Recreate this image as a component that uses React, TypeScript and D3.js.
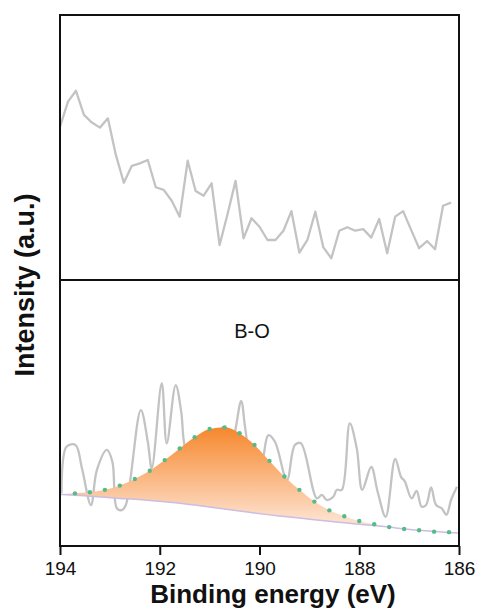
import React, { useRef, useEffect } from 'react';
import * as d3 from 'd3';

// survey spectrum (top panel), 0.16 eV steps from 194 eV
const topEnergy: number[] = d3.range(50).map(i => +(194 - 0.16 * i).toFixed(2));
const topIntensity: number[] = [
  57.8, 67.3, 71.4, 62.3, 59.4, 57.5, 61.0, 47.2, 36.7, 43.1,
  44.0, 45.3, 35.0, 34.0, 29.9, 23.9, 45.0, 33.6, 31.8, 36.5,
  13.2, 24.9, 37.4, 15.7, 23.3, 20.1, 15.1, 15.1, 18.6, 26.0,
  10.3, 15.1, 25.8, 12.3, 8.2, 18.6, 19.9, 18.6, 19.2, 16.0,
  23.0, 10.1, 23.9, 26.0, 18.9, 12.0, 14.7, 11.6, 28.0, 29.2,
];

// raw B 1s spectrum (bottom panel)
const rawEnergy: number[] = [
  193.97, 193.87, 193.69, 193.56, 193.38, 193.26, 193.06, 192.95, 192.86, 192.76,
  192.68, 192.38, 192.24, 192.16, 191.96, 191.86, 191.68, 191.57, 191.49, 191.29,
  191.09, 190.91, 190.73, 190.55, 190.37, 190.29, 190.15, 190.01, 189.82, 189.69,
  189.45, 189.29, 189.17, 188.85, 188.75, 188.65, 188.52, 188.45, 188.35, 188.19,
  188.05, 187.94, 187.76, 187.63, 187.47, 187.28, 187.16, 187.09, 186.95, 186.85,
  186.75, 186.66, 186.56, 186.46, 186.35, 186.25, 186.16, 186.04,
];
const rawIntensity: number[] = [
  19.8, 37.3, 38.0, 29.2, 15.4, 28.6, 36.1, 31.7, 14.2, 13.5,
  15.4, 51.1, 39.2, 29.2, 61.2, 38.6, 60.5, 50.5, 36.8, 29.3,
  37.2, 31.6, 44.7, 40.6, 54.5, 44.8, 29.3, 26.7, 41.7, 39.2,
  24.8, 38.0, 38.6, 17.9, 19.2, 17.3, 18.5, 21.1, 21.1, 46.1,
  36.7, 21.1, 29.7, 20.3, 11.0, 32.7, 25.9, 24.4, 17.9, 20.7,
  14.8, 15.4, 22.0, 15.4, 14.2, 11.8, 17.3, 22.3,
];

// fitted B-O component: envelope and background
const fitEnergy: number[] = [
  194.0, 193.7, 193.4, 193.1, 192.8, 192.5, 192.2, 191.9, 191.6, 191.3,
  191.0, 190.7, 190.4, 190.1, 189.8, 189.5, 189.2, 188.9, 188.6, 188.3,
  188.0, 187.7, 187.4, 187.1, 186.8, 186.5, 186.2, 186.0,
];
const fitEnvelope: number[] = [
  19.4, 19.8, 20.2, 21.1, 22.7, 25.2, 28.3, 32.3, 36.7, 40.9,
  44.0, 44.6, 42.4, 38.0, 32.0, 26.1, 21.1, 16.7, 13.4, 11.2,
  9.4, 8.2, 7.1, 6.4, 5.9, 5.4, 5.2, 4.9,
];
const fitBackground: number[] = [
  19.4, 19.1, 18.7, 18.3, 17.9, 17.6, 17.1, 16.6, 16.1, 15.4,
  14.7, 13.9, 13.2, 12.4, 11.7, 11.1, 10.5, 9.9, 9.3, 8.7,
  8.2, 7.7, 7.1, 6.4, 5.9, 5.5, 5.1, 4.9,
];

const xTicks: number[] = [194, 192, 190, 188, 186];
const peakLabel = 'B-O';

export default function App() {
  const svgRef = useRef<SVGSVGElement | null>(null);
  const width = 482;
  const height = 613;

  useEffect(() => {
    const svg = d3.select(svgRef.current);
    svg.selectAll('*').remove();

    const left = 60, right = 459, top = 15, mid = 280, bottom = 546;
    const font = '"Liberation Sans", Arial, sans-serif';

    const x = d3.scaleLinear().domain([194, 186]).range([left, right]);
    const yTop = d3.scaleLinear().domain([0, 100]).range([mid, top]);
    const yBot = d3.scaleLinear().domain([0, 100]).range([bottom, mid]);

    const defs = svg.append('defs');
    const grad = defs.append('linearGradient')
      .attr('id', 'peakFill')
      .attr('gradientUnits', 'userSpaceOnUse')
      .attr('x1', 0).attr('x2', 0)
      .attr('y1', yBot(45)).attr('y2', yBot(10));
    grad.append('stop').attr('offset', '0%').attr('stop-color', '#f6862a');
    grad.append('stop').attr('offset', '100%').attr('stop-color', '#fde0cb');

    defs.append('clipPath').attr('id', 'clipTop')
      .append('rect').attr('x', left).attr('y', top)
      .attr('width', right - left).attr('height', mid - top);
    defs.append('clipPath').attr('id', 'clipBot')
      .append('rect').attr('x', left).attr('y', mid)
      .attr('width', right - left).attr('height', bottom - mid);

    // top panel line
    const topLine = d3.line<number>()
      .x((_, i) => x(topEnergy[i]))
      .y(d => yTop(d));
    svg.append('path')
      .attr('clip-path', 'url(#clipTop)')
      .attr('d', topLine(topIntensity))
      .attr('fill', 'none')
      .attr('stroke', '#c3c3c3')
      .attr('stroke-width', 2.3)
      .attr('stroke-linejoin', 'round');

    // bottom panel raw data
    const g = svg.append('g').attr('clip-path', 'url(#clipBot)');
    const rawLine = d3.line<number>()
      .x((_, i) => x(rawEnergy[i]))
      .y(d => yBot(d))
      .curve(d3.curveCatmullRom);
    g.append('path')
      .attr('d', rawLine(rawIntensity))
      .attr('fill', 'none')
      .attr('stroke', '#c3c3c3')
      .attr('stroke-width', 2.3);

    // fitted peak area
    const area = d3.area<number>()
      .x((_, i) => x(fitEnergy[i]))
      .y0((_, i) => yBot(fitBackground[i]))
      .y1(d => yBot(d))
      .curve(d3.curveMonotoneX);
    g.append('path')
      .attr('d', area(fitEnvelope))
      .attr('fill', 'url(#peakFill)');

    // background
    const bgLine = d3.line<number>()
      .x((_, i) => x(fitEnergy[i]))
      .y(d => yBot(d))
      .curve(d3.curveMonotoneX);
    g.append('path')
      .attr('d', bgLine(fitBackground))
      .attr('fill', 'none')
      .attr('stroke', '#cbbde3')
      .attr('stroke-width', 1.5);

    // envelope dots
    g.selectAll('circle.env')
      .data(fitEnvelope.map((v, i) => ({ e: fitEnergy[i], v })).filter(d => d.e < 194 && d.e > 186))
      .enter()
      .append('circle')
      .attr('class', 'env')
      .attr('cx', d => x(d.e))
      .attr('cy', d => yBot(d.v))
      .attr('r', 2.2)
      .attr('fill', '#55bb88');

    // frames
    svg.append('rect')
      .attr('x', left).attr('y', top)
      .attr('width', right - left).attr('height', bottom - top)
      .attr('fill', 'none').attr('stroke', '#111').attr('stroke-width', 2);
    svg.append('line')
      .attr('x1', left).attr('x2', right).attr('y1', mid).attr('y2', mid)
      .attr('stroke', '#111').attr('stroke-width', 2);

    // x axis
    const ax = svg.append('g')
      .attr('transform', `translate(0,${bottom})`)
      .call(d3.axisBottom(x).tickValues(xTicks).tickSize(9).tickPadding(7).tickFormat(d3.format('d')));
    ax.select('.domain').remove();
    ax.selectAll('.tick line').attr('stroke', '#111').attr('stroke-width', 2);
    ax.selectAll('.tick text')
      .attr('fill', '#111')
      .style('font-family', font)
      .style('font-size', '19px');

    svg.append('text')
      .attr('x', 273)
      .attr('y', 603)
      .attr('text-anchor', 'middle')
      .style('font-family', font)
      .style('font-size', '26px')
      .style('font-weight', 'bold')
      .attr('fill', '#111')
      .text('Binding energy (eV)');

    svg.append('text')
      .attr('transform', 'rotate(-90)')
      .attr('x', -285)
      .attr('y', 34)
      .attr('text-anchor', 'middle')
      .style('font-family', font)
      .style('font-size', '27px')
      .style('font-weight', 'bold')
      .attr('fill', '#111')
      .text('Intensity (a.u.)');

    svg.append('text')
      .attr('x', 252)
      .attr('y', 338)
      .attr('text-anchor', 'middle')
      .style('font-family', font)
      .style('font-size', '20px')
      .attr('fill', '#111')
      .text(peakLabel);
  }, []);

  return (
    <svg
      ref={svgRef}
      width={width}
      height={height}
      style={{ position: 'absolute', left: 0, top: 0, background: '#fff' }}
    />
  );
}
